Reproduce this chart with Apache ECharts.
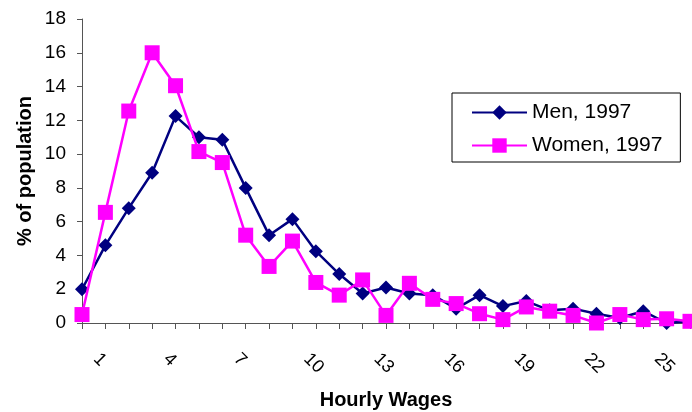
<!DOCTYPE html>
<html>
<head>
<meta charset="utf-8">
<script src="https://cdn.jsdelivr.net/npm/echarts@6/dist/echarts.min.js"></script>
<style>
  html, body { margin: 0; padding: 0; background: #fff; }
  #chart { width: 692px; height: 412px; }
</style>
</head>
<body>
<div id="chart"></div>
<script>
// Hourly wage buckets ($1 to $27)
const wageBuckets = ['1','2','3','4','5','6','7','8','9','10','11','12','13','14','15','16','17','18','19','20','21','22','23','24','25','26','27'];

// Share of population (%) in each wage bucket
const men1997 = [2.0, 4.6, 6.8, 8.9, 12.25, 11.0, 10.85, 8.0, 5.2, 6.15, 4.25, 2.9, 1.75, 2.1, 1.75, 1.65, 0.85, 1.65, 1.0, 1.3, 0.75, 0.85, 0.55, 0.3, 0.7, 0.0, 0.1];
const women1997 = [0.5, 6.55, 12.55, 16.0, 14.05, 10.15, 9.5, 5.2, 3.35, 4.85, 2.4, 1.65, 2.55, 0.45, 2.35, 1.4, 1.15, 0.55, 0.2, 0.95, 0.7, 0.45, 0.0, 0.5, 0.2, 0.25, 0.1];

const FONT = '"Liberation Sans", Arial, sans-serif';
const AXIS_GREY = '#555555';

const chart = echarts.init(document.getElementById('chart'), null, { renderer: 'canvas' });

chart.setOption({
  backgroundColor: '#ffffff',
  animation: false,
  textStyle: { fontFamily: FONT, color: '#000' },
  grid: {
    left: 82,
    right: 2,
    top: 19,
    bottom: 89,
    outerBoundsMode: 'none',
    containLabel: false
  },
  legend: {
    orient: 'vertical',
    left: 452,
    top: 93,
    padding: [9, 18, 6, 19],
    itemGap: 12,
    itemWidth: 55,
    itemHeight: 18,
    borderColor: '#000',
    borderWidth: 1,
    backgroundColor: '#fff',
    textStyle: { fontFamily: FONT, fontSize: 21, color: '#000' },
    data: ['Men, 1997', 'Women, 1997']
  },
  xAxis: {
    type: 'category',
    data: wageBuckets,
    boundaryGap: false,
    name: 'Hourly Wages',
    nameLocation: 'middle',
    nameGap: 67,
    nameMoveOverlap: false,
    nameTextStyle: { fontFamily: FONT, fontSize: 20, fontWeight: 'bold', color: '#000' },
    axisLine: { lineStyle: { color: AXIS_GREY, width: 1 } },
    axisTick: { show: true, interval: 0, length: 6, inside: false, lineStyle: { color: AXIS_GREY } },
    axisLabel: {
      interval: 2,
      rotate: -45,
      margin: 19,
      padding: [0, 0, 40, 20],
      hideOverlap: false,
      fontFamily: FONT,
      fontSize: 18,
      color: '#000'
    },
    splitLine: { show: false }
  },
  yAxis: {
    type: 'value',
    min: 0,
    max: 18,
    interval: 2,
    name: '% of population',
    nameLocation: 'middle',
    nameGap: 47,
    nameMoveOverlap: false,
    nameTextStyle: { fontFamily: FONT, fontSize: 20, fontWeight: 'bold', color: '#000' },
    axisLine: { show: true, lineStyle: { color: AXIS_GREY, width: 1 } },
    axisTick: { show: true, length: 5, inside: false, lineStyle: { color: AXIS_GREY } },
    axisLabel: { margin: 16, fontFamily: FONT, fontSize: 19, color: '#000' },
    splitLine: { show: false }
  },
  series: [
    {
      name: 'Men, 1997',
      type: 'line',
      data: men1997,
      symbol: 'diamond',
      symbolSize: 14,
      clip: false,
      color: '#000080',
      lineStyle: { color: '#000080', width: 2.5 },
      itemStyle: { color: '#000080' },
      z: 2
    },
    {
      name: 'Women, 1997',
      type: 'line',
      data: women1997,
      symbol: 'rect',
      symbolSize: 15,
      clip: false,
      color: '#ff00ff',
      lineStyle: { color: '#ff00ff', width: 2.5 },
      itemStyle: { color: '#ff00ff' },
      z: 3
    }
  ]
});
</script>
</body>
</html>
